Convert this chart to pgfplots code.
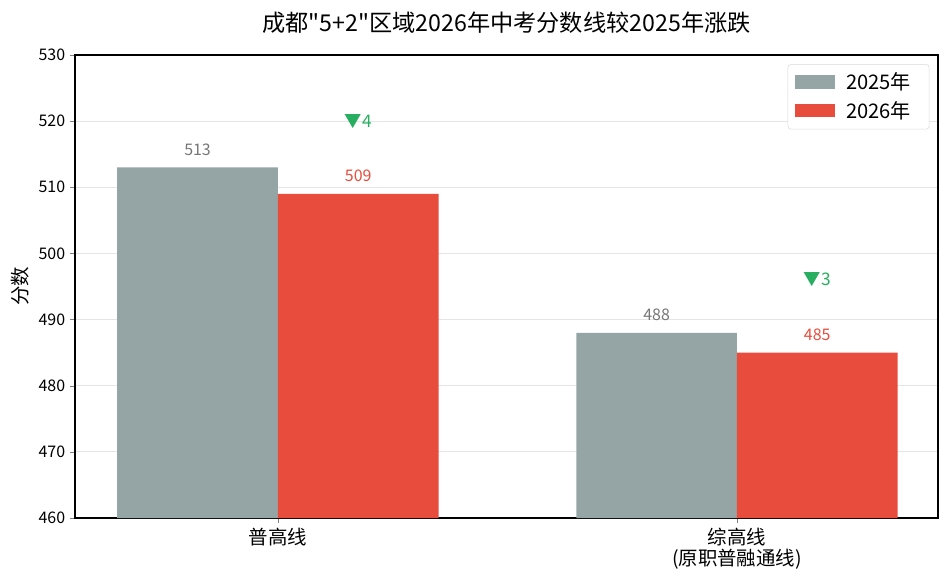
\documentclass[border=0pt]{standalone}
\usepackage{fontspec}
\setmainfont{Noto Sans CJK SC}
\newfontfamily\cjk{Noto Sans CJK SC}
\usepackage{pgfplots}
\pgfplotsset{compat=1.18}
\definecolor{cgray}{HTML}{95A5A6}
\definecolor{cred}{HTML}{E74C3C}
\definecolor{cgreen}{HTML}{27AE60}
\definecolor{clabgray}{HTML}{767676}
\begin{document}
\begin{tikzpicture}
\path[use as bounding box] (-54pt,-49.7pt) rectangle (628.6pt,373pt);
\begin{axis}[
  at={(0,0)}, anchor=south west,
  scale only axis, width=621.4pt, height=333.4pt,
  xmin=-0.442, xmax=1.438, ymin=460, ymax=530,
  ytick={460,470,...,530},
  xtick={0,1},
  xticklabels={普高线, {综高线\\(原职普融通线)}},
  xticklabel style={align=center, font=\fontsize{14}{15.5}\selectfont},
  yticklabel style={font=\fontsize{11.5}{13}\selectfont},
  /pgf/number format/assume math mode=true,
  tick align=outside, tick pos=left,
  major tick length=3.5pt,
  ymajorgrids, grid style={gray!20, line width=0.6pt},
  axis line style={line width=0.8pt},
  ylabel={分数}, ylabel style={font=\fontsize{14}{15}\selectfont},
  title={\cjk 成都"5+2"区域2026年中考分数线较2025年涨跌},
  title style={font=\fontsize{16.7}{18}\selectfont, yshift=6pt},
  legend style={at={(0.99,0.98)}, anchor=north east, draw=gray!30, rounded corners=2pt, font=\fontsize{14.5}{16}\selectfont, row sep=3pt, inner xsep=5pt, inner ysep=4pt,
    nodes={inner xsep=8pt}},
  legend cell align=left,
  legend image code/.code={\fill[#1, sharp corners] (0pt,-4.5pt) rectangle (29pt,5pt);},
]
\addplot[ybar, bar width=0.35, bar shift=0, fill=cgray, draw=none,
  nodes near coords, nodes near coords style={font=\fontsize{11.5}{13}\selectfont, text=clabgray, anchor=south, inner sep=0pt, yshift=8.5pt},
  /pgf/number format/assume math mode=true]
  coordinates {(-0.175,513) (0.825,488)};
\addlegendentry{2025年}
\addplot[ybar, bar width=0.35, bar shift=0, fill=cred, draw=none,
  nodes near coords, nodes near coords style={font=\fontsize{11.5}{13}\selectfont, text=cred, anchor=south, inner sep=0pt, yshift=8.5pt},
  /pgf/number format/assume math mode=true]
  coordinates {(0.175,509) (1.175,485)};
\addlegendentry{2026年}
\addplot[draw=none, mark=none, point meta=explicit symbolic,
  nodes near coords, nodes near coords style={font=\fontsize{12.5}{13}\selectfont, text=cgreen, anchor=center, inner sep=0pt}]
  coordinates {(0.175,520) [▼4] (1.175,496) [▼3]};
\end{axis}
\end{tikzpicture}
\end{document}
